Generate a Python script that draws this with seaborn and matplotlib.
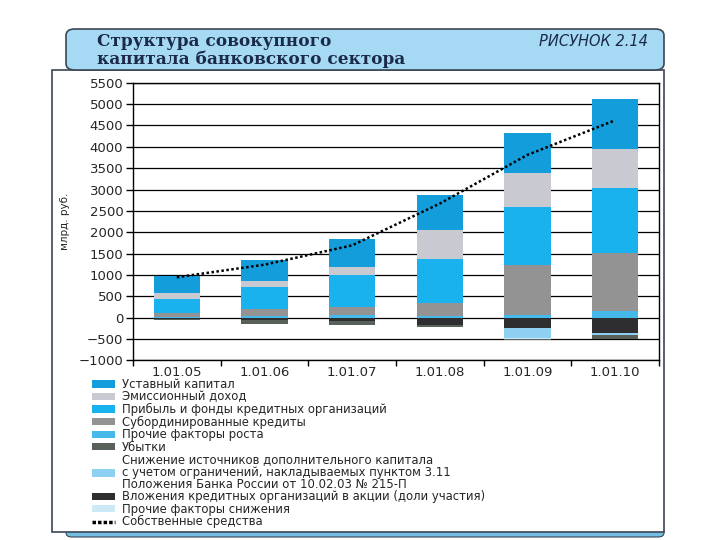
import matplotlib
matplotlib.use("Agg")
import matplotlib.pyplot as plt
from matplotlib.patches import FancyBboxPatch, Rectangle, Patch
from matplotlib.lines import Line2D
import numpy as np
import pandas as pd
import seaborn as sns

# data, bn rub.
dates = ["1.01.05", "1.01.06", "1.01.07", "1.01.08", "1.01.09", "1.01.10"]

ustav = [414, 484, 655, 803, 936, 1178]
emiss = [140, 156, 180, 686, 796, 913]
pribyl = [328, 515, 756, 1030, 1365, 1506]
subord = [80, 160, 180, 313, 1170, 1357]
proch_rost = [20, 35, 60, 30, 60, 164]

ubytki = [-35, -80, -100, -60, -30, -100]
snizh = [0, 0, 0, 0, -230, -35]
vlozh = [-20, -65, -70, -160, -250, -365]
proch_sniz = [0, 0, 0, -5, -10, -5]

own_funds = [946, 1241, 1693, 2671, 3811, 4620]

labels = [
    "Уставный капитал",
    "Эмиссионный доход",
    "Прибыль и фонды кредитных организаций",
    "Субординированные кредиты",
    "Прочие факторы роста",
    "Убытки",
    "Снижение источников дополнительного капитала\n"
    "с учетом ограничений, накладываемых пунктом 3.11\n"
    "Положения Банка России от 10.02.03 № 215-П",
    "Вложения кредитных организаций в акции (доли участия)",
    "Прочие факторы снижения",
    "Собственные средства",
]
colors = ["#139ddb", "#c9c9d1", "#19b2ef", "#939393", "#45b9ea",
          "#58605a", "#8fd0f2", "#2e2e30", "#cde8f6"]

sns.set_style("white")
plt.rcParams["font.family"] = ["DejaVu Sans"]

fig = plt.figure(figsize=(7.2, 5.4), dpi=100)

# outer frame + header
bottom_strip = FancyBboxPatch((66 / 720, 1 - 537 / 540), 598 / 720, 9 / 540,
                              boxstyle="round,pad=0,rounding_size=0.008",
                              transform=fig.transFigure, facecolor="#74bde3",
                              edgecolor="#3b4654", lw=0.8, zorder=-3)
fig.patches.append(bottom_strip)
frame = Rectangle((52 / 720, 1 - 532 / 540), 612 / 720, 462 / 540, transform=fig.transFigure,
                  facecolor="white", edgecolor="#3b4654", lw=1.2, zorder=-2)
fig.patches.append(frame)
header = FancyBboxPatch((66 / 720, 1 - 70 / 540), 598 / 720, 41 / 540,
                        boxstyle="round,pad=0,rounding_size=0.012",
                        transform=fig.transFigure, facecolor="#a6daf4",
                        edgecolor="#3b4654", lw=1.2, zorder=-1)
fig.patches.append(header)
fig.text(97 / 720, 1 - 42 / 540, "Структура совокупного", family="DejaVu Serif",
         weight="bold", fontsize=12.2, color="#1b2a48", va="center", ha="left")
fig.text(97 / 720, 1 - 59 / 540, "капитала банковского сектора", family="DejaVu Serif",
         weight="bold", fontsize=12.2, color="#1b2a48", va="center", ha="left")
fig.text(648 / 720, 1 - 42 / 540, "РИСУНОК 2.14", style="italic", fontsize=10.5,
         color="#1b2a48", va="center", ha="right")

ax = fig.add_axes([133 / 720, 1 - 360.4 / 540, 526 / 720, 277.7 / 540])
ax.set_zorder(2)

# stacked bars drawn as overlapping cumulative bars
pos_layers = [proch_rost, subord, pribyl, emiss, ustav]
pos_colors = [colors[4], colors[3], colors[2], colors[1], colors[0]]
neg_layers = [vlozh, snizh, proch_sniz, ubytki]
neg_colors = [colors[7], colors[6], colors[8], colors[5]]

for layers, cols in [(pos_layers, pos_colors), (neg_layers, neg_colors)]:
    cum = np.cumsum(np.array(layers), axis=0)
    for i in range(len(layers) - 1, -1, -1):
        df = pd.DataFrame({"date": dates, "value": cum[i]})
        sns.barplot(data=df, x="date", y="value", color=cols[i], width=0.53,
                    linewidth=0, saturation=1, ax=ax, zorder=3)

sns.lineplot(x=np.arange(len(dates)), y=own_funds, color="black", lw=1.8,
             linestyle=(0, (1, 1)), ax=ax, zorder=4)

ax.set_ylim(-1000, 5500)
ax.set_xlim(-0.5, 5.5)
ax.set_yticks(range(-1000, 5501, 500))
ax.set_xticks(np.arange(-0.5, 6, 1), minor=True)
ax.yaxis.grid(True, color="black", lw=0.9, zorder=1)
ax.set_axisbelow(True)
ax.set_xlabel("")
ax.set_ylabel("млрд. руб.", fontsize=7.5, labelpad=6)
for s in ax.spines.values():
    s.set_visible(True)
    s.set_color("black")
    s.set_linewidth(1)
ax.tick_params(axis="y", which="major", length=5, width=1, color="black",
               labelsize=9.5, direction="out", pad=2, left=True)
ax.tick_params(axis="x", which="major", length=0, labelsize=9.5, pad=4)
ax.tick_params(axis="x", which="minor", length=4, width=1, color="black",
               direction="out", bottom=True)

handles = [Patch(facecolor=c, edgecolor="none") for c in colors]
handles.append(Line2D([0], [0], color="black", lw=2.5, linestyle=(0, (1, 0.6))))
leg = fig.legend(handles, labels, loc="upper left",
                 bbox_to_anchor=(92 / 720, 1 - 378 / 540), frameon=False,
                 fontsize=8.4, labelspacing=-0.04, handlelength=2.0,
                 handleheight=0.6, handletextpad=0.55, borderpad=0, borderaxespad=0)
for t in leg.get_texts():
    t.set_linespacing(0.92)

fig.savefig("out.png", dpi=100)
